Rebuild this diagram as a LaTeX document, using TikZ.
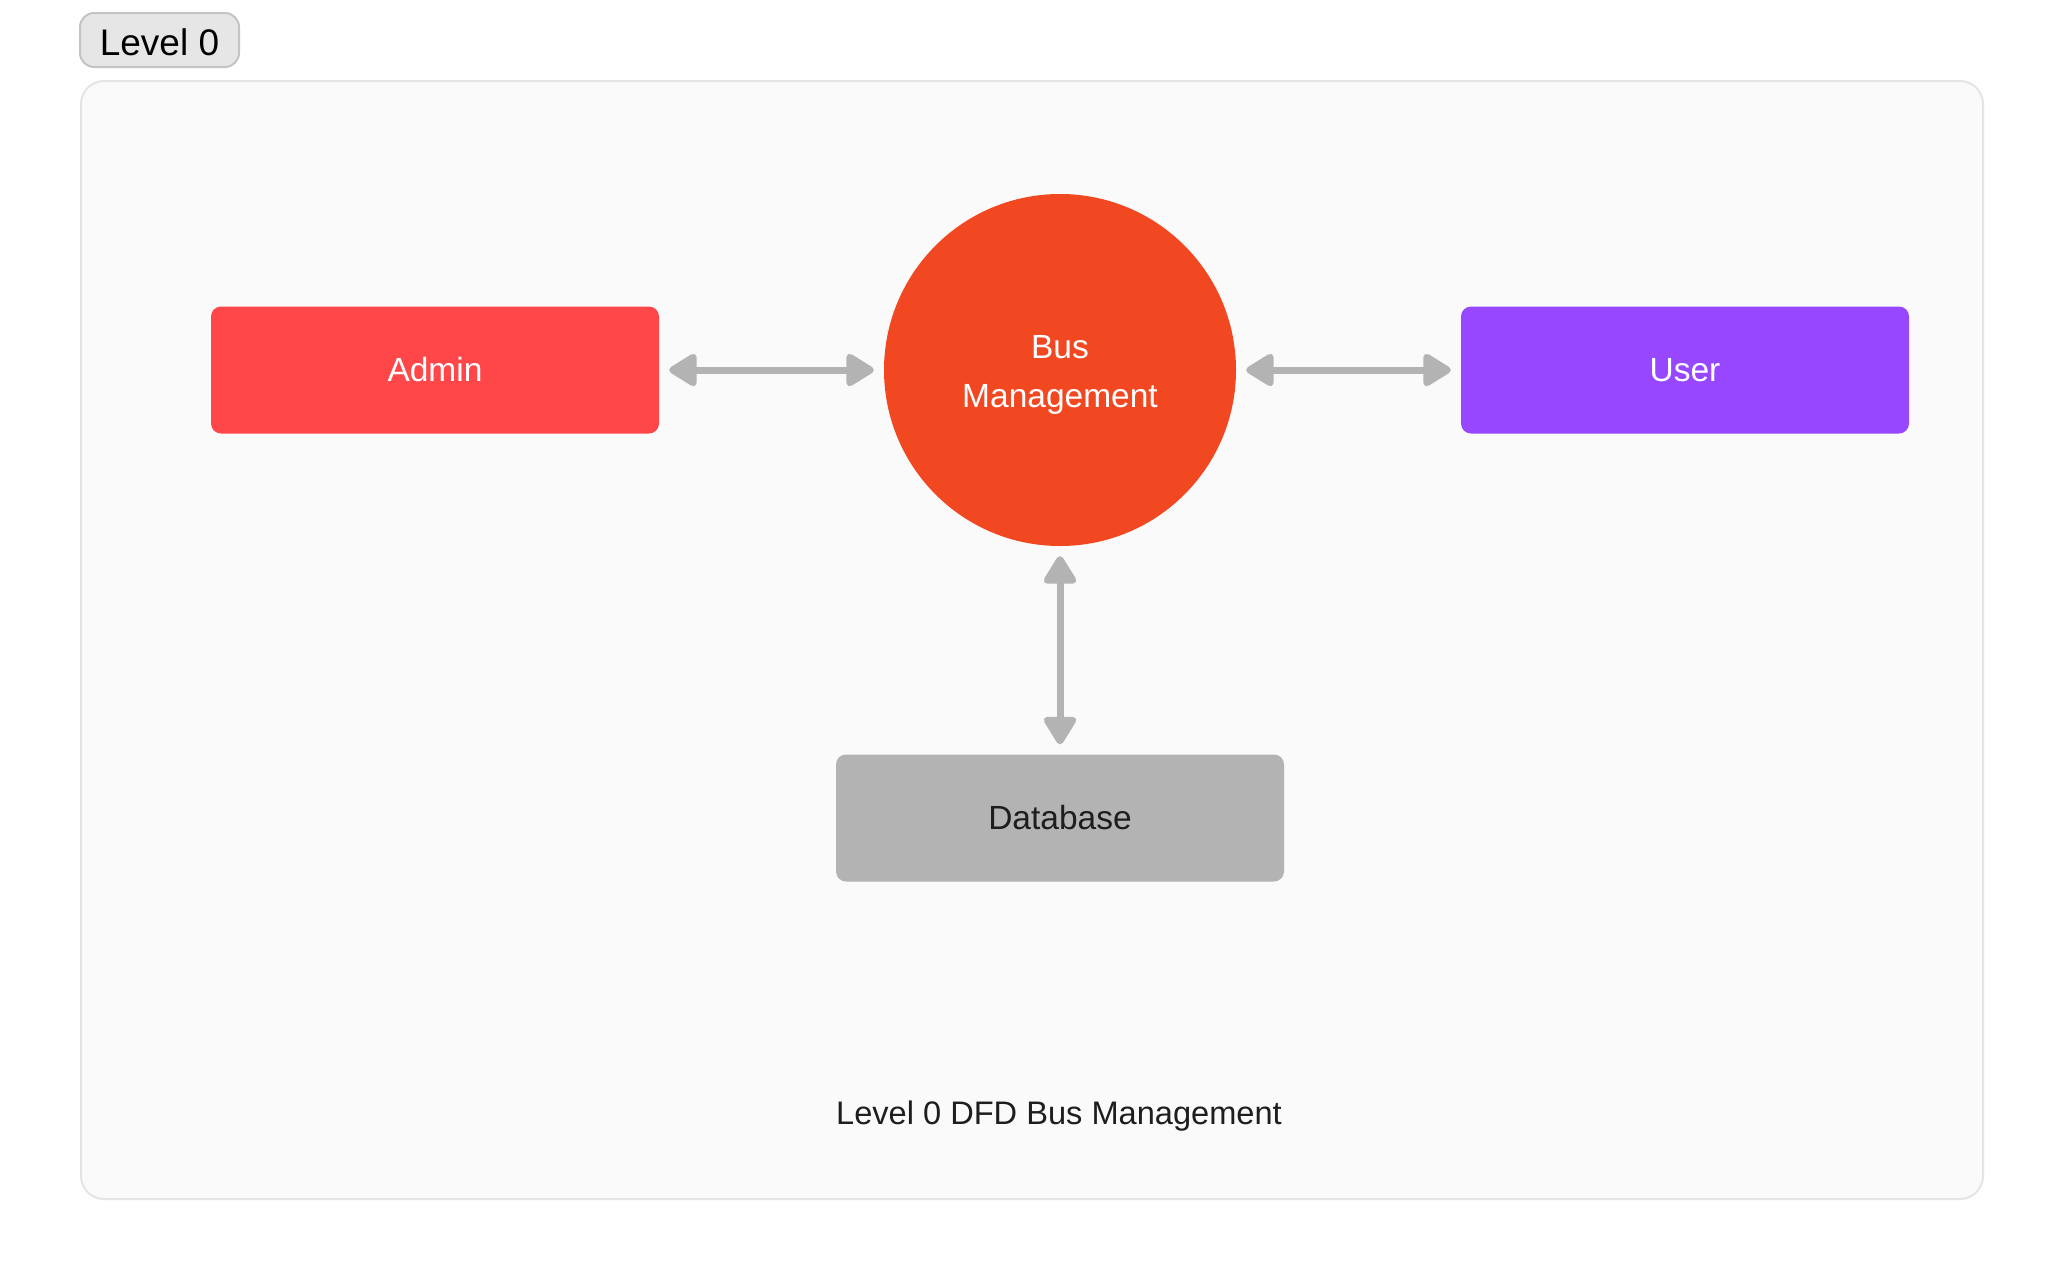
\documentclass[tikz,border=0pt]{standalone}
\usepackage{fontspec}
\setmainfont{Liberation Sans}
\usetikzlibrary{arrows.meta}
\definecolor{framefill}{HTML}{FAFAFA}
\definecolor{framedraw}{HTML}{E4E4E4}
\definecolor{badgefill}{HTML}{E6E6E6}
\definecolor{badgedraw}{HTML}{C4C4C4}
\definecolor{adminc}{HTML}{FF474A}
\definecolor{busc}{HTML}{F24822}
\definecolor{userc}{HTML}{9747FF}
\definecolor{dbc}{HTML}{B3B3B3}
\definecolor{arrowc}{HTML}{B3B3B3}
\definecolor{textdark}{HTML}{1E1E1E}
\tikzset{
  entity/.style={rectangle, rounded corners=10pt, minimum width=448pt, minimum height=127pt, inner sep=0pt, font=\fontsize{33.5}{40}\selectfont},
  flow/.style={draw=arrowc, line width=7pt, {Triangle[width=36pt,length=31pt,round]}-{Triangle[width=36pt,length=31pt,round]}, shorten <=10pt, shorten >=10pt},
}
\begin{document}
\begin{tikzpicture}[x=1pt,y=-1pt]
\fill[white] (0,0) rectangle (2064,1280);
\useasboundingbox (0,0) rectangle (2064,1280);
\draw[fill=framefill, draw=framedraw, line width=2pt, rounded corners=23pt] (81,81) rectangle (1983,1199);
\node[draw=badgedraw, fill=badgefill, line width=2pt, rounded corners=14pt, minimum width=159pt, minimum height=54pt, inner sep=0pt, text height=30pt, text depth=0pt, font=\fontsize{37}{40}\selectfont, text=black] (badge) at (159.5,40) {Level 0};
\node[entity, fill=adminc, text=white] (admin) at (435,370) {Admin};
\node[entity, fill=userc, text=white] (user) at (1685,370) {User};
\node[entity, fill=dbc, text=textdark] (db) at (1060,818) {Database};
\node[circle, fill=busc, minimum size=352pt, inner sep=0pt,
  label={[name=buslabel, align=center, text=white, font=\fontsize{33.5}{49}\selectfont, yshift=-5pt]center:Bus\\Management}] (bus) at (1060,370) {};
\draw[flow] (admin) -- (bus);
\draw[flow] (bus) -- (user);
\draw[flow] (bus) -- (db);
\node[text=textdark, font=\fontsize{32.6}{38}\selectfont, inner sep=0pt] (caption) at (1059,1116) {Level 0 DFD Bus Management};
\end{tikzpicture}
\end{document}
